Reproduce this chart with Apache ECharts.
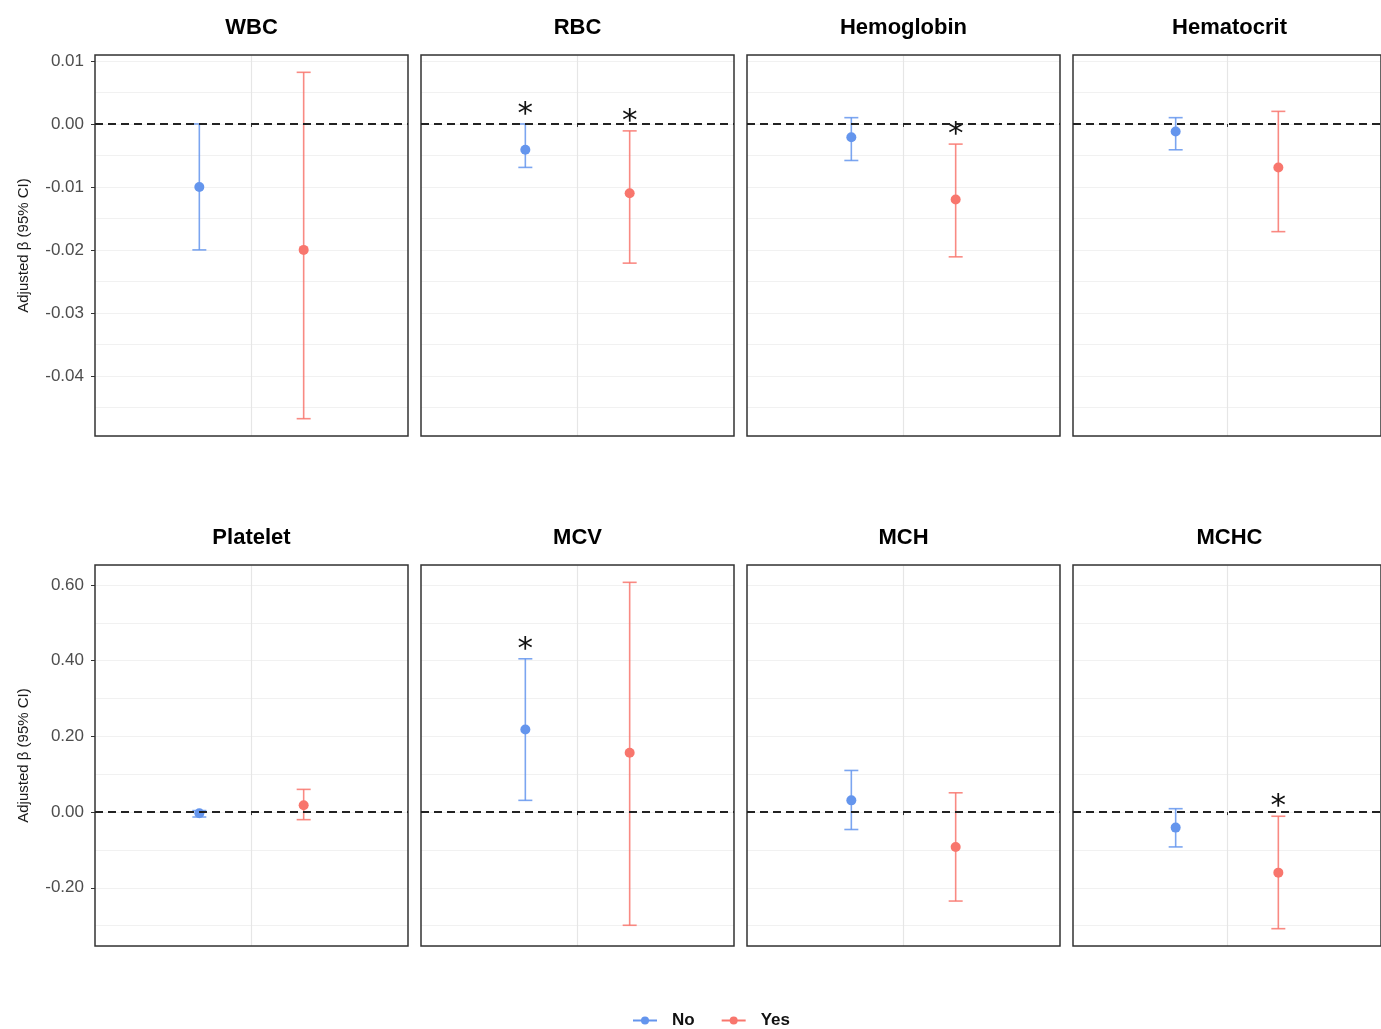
<!DOCTYPE html>
<html>
<head>
<meta charset="utf-8">
<script src="https://cdn.jsdelivr.net/npm/echarts@6/dist/echarts.min.js"></script>
<style>
  html, body { margin: 0; padding: 0; background: #fff; }
  #chart { width: 1381px; height: 1029px; }
</style>
</head>
<body>
<div id="chart"></div>
<script>
  // panels, row by row
  const panels = ["WBC", "RBC", "Hemoglobin", "Hematocrit", "Platelet", "MCV", "MCH", "MCHC"];
  const groups = ["No", "Yes"];

  // adjusted beta and 95% CI
  const noEst  = [-0.010, -0.0041, -0.0021, -0.0012, -0.003, 0.218, 0.031, -0.041];
  const noLow  = [-0.020, -0.0069, -0.0058, -0.0041, -0.013, 0.031, -0.046, -0.092];
  const noHigh = [ 0.000,  0.0000,  0.0010,  0.0010,  0.004, 0.405, 0.110,  0.009];
  const yesEst  = [-0.020, -0.0110, -0.0120, -0.0069, 0.018, 0.157, -0.092, -0.160];
  const yesLow  = [-0.0468, -0.0221, -0.0211, -0.0171, -0.020, -0.299, -0.235, -0.308];
  const yesHigh = [ 0.0082, -0.0011, -0.0032,  0.0020,  0.060,  0.607,  0.051, -0.011];
  // significance stars
  const noSig  = [0, 1, 0, 0, 0, 1, 0, 0];
  const yesSig = [0, 1, 1, 0, 0, 0, 0, 1];

  const rowStep = [0.01, 0.2];
  const yTitle = "Adjusted β (95% CI)";

  const colLeft = [95, 421, 747, 1073];
  const rowTop = [55, 565];
  const panelW = 313, panelH = 381;
  const colors = { No: "#6495ED", Yes: "#F8766D" };
  const fontFam = "Liberation Sans, Arial, sans-serif";

  let chart = echarts.init(document.getElementById("chart"));

  // y range per row = data range + 5% (like ggplot)
  function rowRange(row) {
    let lo = Infinity, hi = -Infinity;
    for (let i = row * 4; i < row * 4 + 4; i++) {
      lo = Math.min(lo, noLow[i], yesLow[i]);
      hi = Math.max(hi, noHigh[i], yesHigh[i]);
    }
    let pad = (hi - lo) * 0.05;
    return [lo - pad, hi + pad];
  }

  // multiples of step inside the range
  function breaks(range, step) {
    let out = [];
    for (let k = Math.ceil(range[0] / step); k * step <= range[1]; k++) {
      out.push(+(k * step).toFixed(6));
    }
    return out;
  }

  function renderBar(params, api) {
    let x = api.value(0), lo = api.value(1), hi = api.value(2), sig = api.value(3);
    let pLo = api.coord([x, lo]);
    let pHi = api.coord([x, hi]);
    let cap = 7;
    let style = { stroke: api.visual("color"), lineWidth: 1.6, opacity: 0.85 };
    let children = [
      { type: "line", shape: { x1: pLo[0], y1: pLo[1], x2: pHi[0], y2: pHi[1] }, style: style },
      { type: "line", shape: { x1: pLo[0] - cap, y1: pLo[1], x2: pLo[0] + cap, y2: pLo[1] }, style: style },
      { type: "line", shape: { x1: pHi[0] - cap, y1: pHi[1], x2: pHi[0] + cap, y2: pHi[1] }, style: style }
    ];
    if (sig) {
      children.push({
        type: "text", x: pHi[0], y: pHi[1] - 9,
        style: { text: "*", fontSize: 31, fontFamily: "DejaVu Sans, sans-serif", fill: "#111", align: "center", verticalAlign: "middle" }
      });
    }
    return { type: "group", children: children };
  }

  let grids = [], xAxes = [], yAxes = [], minorY = [], series = [], texts = [];

  panels.forEach(function (name, i) {
    let row = Math.floor(i / 4), col = i % 4;
    let range = rowRange(row);
    let step = rowStep[row];
    let major = breaks(range, step);

    grids.push({
      left: colLeft[col], top: rowTop[row], width: panelW, height: panelH,
      show: true, borderColor: "#333", borderWidth: 1.5, backgroundColor: "transparent", z: 5
    });

    xAxes.push({
      gridIndex: i, type: "value", min: 0, max: 3, minInterval: 1.5, maxInterval: 1.5,
      axisLine: { show: false },
      axisLabel: { show: false },
      axisTick: { show: true, length: 3, customValues: [1.5], lineStyle: { color: "#333" } },
      splitLine: { show: true, lineStyle: { color: "#e6e6e6", width: 1.2 } }
    });

    yAxes.push({
      gridIndex: i, type: "value", position: "left",
      min: range[0], max: range[1], minInterval: step, maxInterval: step, splitNumber: 10,
      axisLine: { show: false },
      axisTick: { show: col === 0, length: 4, customValues: major, lineStyle: { color: "#333" } },
      axisLabel: {
        show: col === 0, fontSize: 17, color: "#4d4d4d", fontFamily: fontFam, margin: 11,
        customValues: major,
        formatter: function (v) {
          let k = v / step;
          return Math.abs(k - Math.round(k)) < 1e-6 ? v.toFixed(2) : "";
        }
      },
      splitLine: { show: true, lineStyle: { color: "#e6e6e6", width: 1.2 } },
      name: col === 0 ? yTitle : "", nameLocation: "middle", nameGap: 64,
      nameTextStyle: { fontSize: 15, color: "#1a1a1a", fontFamily: fontFam }
    });

    // minor grid lines
    minorY.push({
      gridIndex: i, type: "value", position: "right",
      min: range[0], max: range[1], minInterval: step / 2, maxInterval: step / 2, splitNumber: 20,
      axisLine: { show: false }, axisTick: { show: false }, axisLabel: { show: false },
      splitLine: { show: true, lineStyle: { color: "#f1f1f1", width: 1 } }
    });

    texts.push({
      type: "text", x: colLeft[col] + panelW / 2, y: rowTop[row] - 27,
      style: { text: name, font: "bold 22px " + fontFam, fill: "#000", align: "center", verticalAlign: "middle" }
    });
  });

  // points first (legend icon comes from these line series), then error bars
  panels.forEach(function (name, i) {
    let est = [noEst[i], yesEst[i]];
    groups.forEach(function (g, gi) {
      let s = {
        type: "line", name: g, xAxisIndex: i, yAxisIndex: i,
        data: [[gi + 1, est[gi]]],
        symbol: "circle", symbolSize: 10, showSymbol: true,
        itemStyle: { color: colors[g] }, lineStyle: { color: colors[g], width: 1.5 },
        z: 4, silent: true
      };
      if (gi === 0) {
        s.markLine = {
          silent: true, symbol: ["none", "none"], label: { show: false },
          lineStyle: { type: [8, 5], color: "#222", width: 2 },
          data: [{ yAxis: 0 }]
        };
      }
      series.push(s);
    });
  });

  panels.forEach(function (name, i) {
    let lows = [noLow[i], yesLow[i]], highs = [noHigh[i], yesHigh[i]], sigs = [noSig[i], yesSig[i]];
    groups.forEach(function (g, gi) {
      series.push({
        type: "custom", name: g, xAxisIndex: i, yAxisIndex: i,
        renderItem: renderBar,
        itemStyle: { color: colors[g] },
        encode: { x: 0, y: [1, 2] },
        data: [[gi + 1, lows[gi], highs[gi], sigs[gi]]],
        z: 3, silent: true
      });
    });
  });

  chart.setOption({
    animation: false,
    backgroundColor: "#fff",
    grid: grids,
    xAxis: xAxes,
    yAxis: yAxes.concat(minorY),
    legend: {
      data: groups, left: 627, top: 1007, itemWidth: 24, itemHeight: 10, itemGap: 26,
      selectedMode: false,
      textStyle: { fontSize: 17, fontWeight: "bold", color: "#111", fontFamily: fontFam, padding: [0, 0, 0, 10] }
    },
    graphic: texts,
    series: series
  });
</script>
</body>
</html>
